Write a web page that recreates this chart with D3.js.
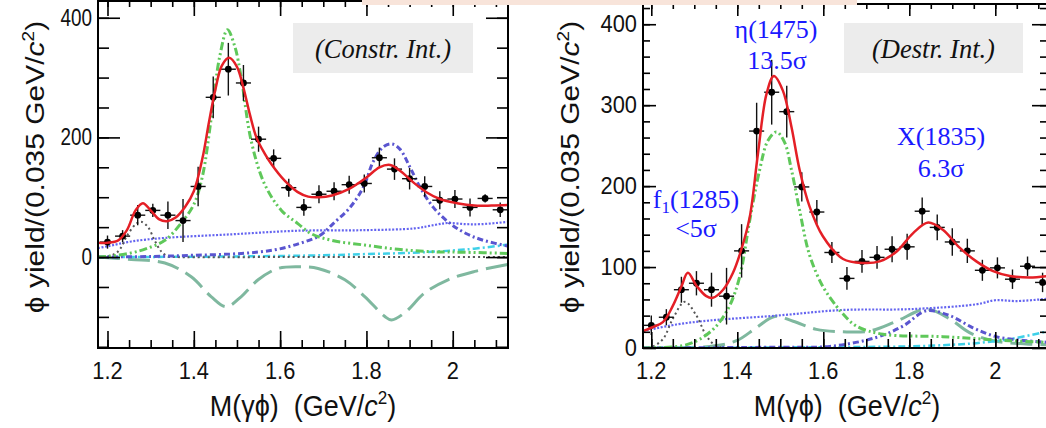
<!DOCTYPE html>
<meta charset="utf-8">
<title>phi gamma fits</title>
<script src="https://d3js.org/d3.v7.min.js"></script>
<style>
  body { margin: 0; background: #fff; }
  svg { display: block; }
</style>
<body>
</body>
<script>
// bin centres (GeV/c^2), bin width 0.035
var massBins = [1.200, 1.235, 1.270, 1.305, 1.340, 1.375, 1.410, 1.445, 1.480, 1.515,
                1.550, 1.585, 1.620, 1.655, 1.690, 1.725, 1.760, 1.795, 1.830, 1.865,
                1.900, 1.935, 1.970, 2.005, 2.040, 2.075, 2.110];

// constructive interference panel
var constrYield = [25, 35, 70, 78, 70, 61, 118, 267, 314, 291, 197, 165, 116, 83, 105,
                   110, 121, 123, 166, 147, 131, 118, 95, 97, 83, 98, 79];
var constrErr   = [11, 10, 17, 11, 23, 36, 33, 35, 44, 30, 21, 15, 15, 14, 15,
                   15, 15, 15, 17, 18, 18, 17, 15, 15, 15, 7, 12];

// destructive interference panel
var destrYield = [28, 38, 72, 80, 72, 64, 120, 268, 316, 292, 199, 168, 118, 86, 107,
                  112, 122, 125, 169, 149, 131, 120, 96, 99, 85, 101, 81];
var destrErr   = [12, 10, 16, 15, 21, 35, 33, 35, 40, 32, 18, 15, 13, 14, 14,
                  14, 16, 16, 17, 16, 17, 15, 13, 13, 12, 12, 12];

// fit curves, [mass, yield]
var constrTotal = [[1.178,24],[1.2,24],[1.225,28],[1.245,45],[1.265,78],[1.282,90],[1.3,78],[1.32,63],
  [1.338,60],[1.358,66],[1.38,84],[1.40,110],[1.42,165],[1.435,225],[1.45,280],[1.465,320],[1.482,333],
  [1.50,318],[1.515,283],[1.53,238],[1.545,200],[1.565,172],[1.58,155],[1.61,128],[1.64,109],[1.665,101],
  [1.69,100],[1.72,103],[1.76,114],[1.80,133],[1.83,150],[1.855,154],[1.88,143],[1.91,124],[1.94,108],
  [1.97,97],[2.01,90],[2.05,86],[2.09,86],[2.13,87]];
var constrEta = [[1.178,0],[1.2,1],[1.255,7],[1.29,14],[1.333,28],[1.37,56],[1.40,88],[1.42,135],[1.44,230],
  [1.46,335],[1.478,380],[1.495,352],[1.51,299],[1.533,194],[1.564,122],[1.603,78],[1.641,56],[1.672,39],
  [1.719,28],[1.796,20],[1.873,13],[1.95,9],[2.028,8],[2.13,6]];
var constrX = [[1.178,0],[1.3,1],[1.4,3],[1.51,6],[1.587,12],[1.646,23],[1.692,36],[1.723,56],[1.762,83],
  [1.793,117],[1.816,160],[1.839,184],[1.859,189],[1.878,180],[1.901,150],[1.924,117],[1.955,83],
  [1.994,56],[2.032,39],[2.071,28],[2.13,18]];
var constrBkg = [[1.178,15],[1.2,18],[1.255,26],[1.333,32],[1.487,38],[1.641,44],[1.796,45],[1.912,48],
  [1.96,54],[1.989,57],[2.03,55],[2.066,55],[2.13,59]];
var constrF1 = [[1.178,0],[1.2,1],[1.224,9],[1.248,39],[1.267,56],[1.278,59],[1.294,50],[1.309,28],
  [1.325,9],[1.34,1],[1.36,0],[1.6,0],[1.9,0],[2.13,0]];
var constrOther = [[1.178,0],[1.5,1],[1.7,3],[1.8,5],[1.9,7],[2.0,11],[2.05,14],[2.13,21]];
var constrIntf = [[1.178,0],[1.255,-4],[1.333,-10],[1.394,-33],[1.44,-66],[1.475,-83],[1.51,-66],
  [1.549,-38],[1.595,-19],[1.641,-16],[1.688,-19],[1.75,-38],[1.796,-66],[1.842,-99],[1.858,-105],
  [1.889,-93],[1.935,-60],[1.989,-38],[2.051,-24],[2.13,-12]];

var destrTotal = [[1.181,21],[1.2,25],[1.227,32],[1.25,52],[1.27,76],[1.285,93],[1.305,77],[1.328,64],
  [1.343,62],[1.367,72],[1.39,93],[1.409,121],[1.429,162],[1.448,240],[1.468,314],[1.485,336],[1.506,318],
  [1.526,273],[1.545,220],[1.568,175],[1.599,138],[1.646,110],[1.692,105],[1.731,107],[1.77,119],
  [1.809,142],[1.844,155],[1.878,146],[1.917,124],[1.956,107],[1.995,95],[2.034,89],[2.08,87],[2.125,89]];
var destrEta = [[1.181,0],[1.274,3],[1.313,11],[1.351,27],[1.382,52],[1.406,89],[1.429,158],[1.452,220],
  [1.471,256],[1.491,267],[1.51,254],[1.526,220],[1.545,170],[1.568,115],[1.599,76],[1.63,52],[1.646,42],
  [1.677,27],[1.739,17],[1.878,14],[2.034,9],[2.125,7]];
var destrX = [[1.181,0],[1.5,1],[1.615,2],[1.723,13],[1.785,27],[1.84,46],[1.894,40],[1.948,25],
  [2.002,14],[2.072,9],[2.125,7]];
var destrBkg = [[1.181,21],[1.258,29],[1.336,34],[1.491,40],[1.646,47],[1.801,48],[1.956,54],[2.0,59],
  [2.05,58],[2.125,61]];
var destrF1 = [[1.181,0],[1.2,1],[1.227,11],[1.25,36],[1.278,57],[1.305,40],[1.328,15],[1.347,4],
  [1.37,0],[1.7,0],[2.125,0]];
var destrOther = [[1.181,0],[1.6,1],[1.8,2],[1.9,4],[1.956,6],[2.034,11],[2.125,21]];
var destrIntf = [[1.181,0],[1.336,2],[1.398,9],[1.444,25],[1.487,39],[1.53,33],[1.584,23],[1.646,20],
  [1.708,21],[1.77,33],[1.84,48],[1.894,36],[1.94,19],[1.995,9],[2.072,5],[2.125,4]];

// tick labels
var xTickLabels = [1.2, 1.4, 1.6, 1.8, 2];
var constrYLabels = [0, 200, 400];
var destrYLabels = [0, 100, 200, 300, 400];

var styles = {
  intf:  {stroke: "#7fb89f", width: 3,   dash: "22,8"},
  bkg:   {stroke: "#6464f0", width: 2.2, dash: "2,1.6"},
  other: {stroke: "#3fd0e8", width: 2.5, dash: "7,3,2,3"},
  f1:    {stroke: "#555555", width: 2,   dash: "2,3"},
  x:     {stroke: "#5a55d0", width: 3,   dash: "6,3,2,3"},
  eta:   {stroke: "#5fc85a", width: 3,   dash: "8,3,2,3,2,3"},
  total: {stroke: "#e41f26", width: 2.5, dash: null}
};

var svg = d3.select("body").append("svg")
            .attr("width", 1046)
            .attr("height", 428);

function squishText(sel, x, y, sx, rot) {
  sel.attr("transform", "translate(" + x + "," + y + ") scale(" + sx + ",1)" + (rot ? " rotate(" + rot + ")" : ""));
  return sel;
}

function drawPanel(p) {
  var g = svg.append("g");
  var x = d3.scaleLinear().domain(p.xDomain).range([p.left, p.right]);
  var y = d3.scaleLinear().domain(p.yDomain).range([p.bottom, p.top]);

  g.append("clipPath").attr("id", p.id + "-clip")
   .append("rect")
   .attr("x", p.left).attr("y", p.top)
   .attr("width", p.right - p.left).attr("height", p.bottom - p.top);

  var plot = g.append("g").attr("clip-path", "url(#" + p.id + "-clip)");

  var line = d3.line()
               .x(function (d) { return x(d[0]); })
               .y(function (d) { return y(d[1]); })
               .curve(d3.curveCatmullRom.alpha(0.5));

  p.curves.forEach(function (c) {
    var s = styles[c.kind];
    if (c.kind === "total") return;
    plot.append("path")
        .attr("d", line(c.data))
        .attr("fill", "none")
        .attr("stroke", s.stroke)
        .attr("stroke-width", s.width)
        .attr("stroke-dasharray", s.dash);
  });

  // data points
  var pts = massBins.map(function (m, i) { return {m: m, v: p.yields[i], e: p.errs[i]}; });
  var pg = plot.selectAll("g.pt").data(pts).enter().append("g").attr("class", "pt");
  pg.append("line")
    .attr("x1", function (d) { return x(d.m - 0.0175); })
    .attr("x2", function (d) { return x(d.m + 0.0175); })
    .attr("y1", function (d) { return y(d.v); })
    .attr("y2", function (d) { return y(d.v); })
    .attr("stroke", "#111").attr("stroke-width", 1.4);
  pg.append("line")
    .attr("x1", function (d) { return x(d.m); })
    .attr("x2", function (d) { return x(d.m); })
    .attr("y1", function (d) { return y(d.v - d.e); })
    .attr("y2", function (d) { return y(d.v + d.e); })
    .attr("stroke", "#111").attr("stroke-width", 1.4);
  pg.append("circle")
    .attr("cx", function (d) { return x(d.m); })
    .attr("cy", function (d) { return y(d.v); })
    .attr("r", 3.4)
    .attr("fill", "#000");

  p.curves.forEach(function (c) {
    if (c.kind !== "total") return;
    var s = styles[c.kind];
    plot.append("path")
        .attr("d", line(c.data))
        .attr("fill", "none")
        .attr("stroke", s.stroke)
        .attr("stroke-width", s.width);
  });

  // axes: ticks inward on all four sides
  function ticks(axis, vals, len, tx, ty) {
    var a = g.append("g")
             .attr("transform", "translate(" + tx + "," + ty + ")")
             .call(axis.tickValues(vals).tickSize(-len).tickFormat(""));
    a.select(".domain").remove();
    a.selectAll("line").attr("stroke", "#000").attr("stroke-width", 1.6);
  }
  var xMinor = d3.range(1.15, 2.2, 0.05).filter(function (v) {
    return v >= p.xDomain[0] && v <= p.xDomain[1];
  });
  var yMinor = d3.range(p.yMinorStart, p.yDomain[1], p.yMinorStep);
  ticks(d3.axisBottom(x), xTickLabels, p.xMajorLen, 0, p.bottom);
  ticks(d3.axisBottom(x), xMinor, p.xMinorLen, 0, p.bottom);
  ticks(d3.axisTop(x), xTickLabels, p.topMajorLen, 0, p.top);
  ticks(d3.axisTop(x), xMinor, p.topMinorLen, 0, p.top);
  ticks(d3.axisLeft(y), p.yLabels, p.yMajorLen, p.left, 0);
  ticks(d3.axisLeft(y), yMinor, p.yMinorLen, p.left, 0);
  ticks(d3.axisRight(y), p.yLabels, p.rMajorLen, p.right, 0);
  ticks(d3.axisRight(y), yMinor, p.rMinorLen, p.right, 0);

  g.append("rect")
   .attr("x", p.left).attr("y", p.top)
   .attr("width", p.right - p.left).attr("height", p.bottom - p.top)
   .attr("fill", "none").attr("stroke", "#000").attr("stroke-width", 2);

  // tick labels
  xTickLabels.forEach(function (v) {
    squishText(g.append("text"), x(v), 379, 0.95)
      .attr("text-anchor", "middle")
      .attr("font-family", "Liberation Sans, Arial, sans-serif")
      .attr("font-size", 23)
      .attr("fill", "#111")
      .text(v);
  });
  p.yLabels.forEach(function (v) {
    squishText(g.append("text"), p.left - 6, y(v) + 8, p.yLabelSx)
      .attr("text-anchor", "end")
      .attr("font-family", "Liberation Sans, Arial, sans-serif")
      .attr("font-size", 23)
      .attr("fill", "#111")
      .text(v);
  });

  // axis titles
  var xt = squishText(g.append("text"), p.xTitleX, 416, 0.9)
    .attr("text-anchor", "middle")
    .attr("font-family", "Liberation Sans, Arial, sans-serif")
    .attr("font-size", 30)
    .attr("fill", "#111");
  xt.append("tspan").text("M(\u03b3\u03d5)\u00a0\u00a0(GeV/");
  xt.append("tspan").attr("font-style", "italic").text("c");
  xt.append("tspan").attr("font-size", 19).attr("dy", -12).text("2");
  xt.append("tspan").attr("dy", 12).text(")");

  var yt = squishText(g.append("text"), p.yTitleX, 167, 0.85, -90)
    .attr("text-anchor", "middle")
    .attr("font-family", "Liberation Sans, Arial, sans-serif")
    .attr("font-size", 30)
    .attr("fill", "#111");
  yt.append("tspan").text("\u03d5 yield/(0.035 GeV/");
  yt.append("tspan").attr("font-style", "italic").text("c");
  yt.append("tspan").attr("font-size", 19).attr("dy", -12).text("2");
  yt.append("tspan").attr("dy", 12).text(")");

  // label box
  g.append("rect")
   .attr("x", p.box[0]).attr("y", 23)
   .attr("width", p.box[1] - p.box[0]).attr("height", 50)
   .attr("fill", "#ececec");
  g.append("text")
   .attr("x", (p.box[0] + p.box[1]) / 2).attr("y", 58)
   .attr("text-anchor", "middle")
   .attr("font-family", "Liberation Serif, Times New Roman, serif")
   .attr("font-style", "italic")
   .attr("font-size", 26.5)
   .attr("fill", "#111")
   .text(p.boxText);
}

drawPanel({
  id: "constr",
  left: 98, right: 508, top: 1, bottom: 348,
  xDomain: [1.178, 2.128], yDomain: [-152, 428],
  yLabels: constrYLabels, yMinorStart: -150, yMinorStep: 50,
  yMajorLen: 22, yMinorLen: 11, rMajorLen: 22, rMinorLen: 11,
  xMajorLen: 17, xMinorLen: 8, topMajorLen: 15, topMinorLen: 6,
  yLabelSx: 0.82, xTitleX: 303, yTitleX: 44,
  yields: constrYield, errs: constrErr,
  box: [293, 473], boxText: "(Constr. Int.)",
  curves: [
    {kind: "intf", data: constrIntf},
    {kind: "bkg", data: constrBkg},
    {kind: "other", data: constrOther},
    {kind: "f1", data: constrF1},
    {kind: "x", data: constrX},
    {kind: "eta", data: constrEta},
    {kind: "total", data: constrTotal}
  ]
});

drawPanel({
  id: "destr",
  left: 643, right: 1048, top: 4, bottom: 348,
  xDomain: [1.1807, 2.1226], yDomain: [0, 425],
  yLabels: destrYLabels, yMinorStart: 20, yMinorStep: 20,
  yMajorLen: 13, yMinorLen: 7, rMajorLen: 16, rMinorLen: 8,
  xMajorLen: 16, xMinorLen: 9, topMajorLen: 12, topMinorLen: 5,
  yLabelSx: 0.95, xTitleX: 847, yTitleX: 579,
  yields: destrYield, errs: destrErr,
  box: [844, 1023], boxText: "(Destr. Int.)",
  curves: [
    {kind: "intf", data: destrIntf},
    {kind: "bkg", data: destrBkg},
    {kind: "other", data: destrOther},
    {kind: "f1", data: destrF1},
    {kind: "x", data: destrX},
    {kind: "eta", data: destrEta},
    {kind: "total", data: destrTotal}
  ]
});

// resonance annotations
var notes = [
  {t: "\u03b7(1475)", x: 776, y: 38},
  {t: "13.5\u03c3", x: 777, y: 69},
  {t: "X(1835)", x: 941, y: 145},
  {t: "6.3\u03c3", x: 941, y: 177},
  {t: "<5\u03c3", x: 696, y: 237}
];
notes.forEach(function (n) {
  svg.append("text")
     .attr("x", n.x).attr("y", n.y)
     .attr("text-anchor", "middle")
     .attr("font-family", "Liberation Serif, Times New Roman, serif")
     .attr("font-size", 26)
     .attr("fill", "#1a1aff")
     .text(n.t);
});
var f1 = svg.append("text")
            .attr("x", 696).attr("y", 208)
            .attr("text-anchor", "middle")
            .attr("font-family", "Liberation Serif, Times New Roman, serif")
            .attr("font-size", 26)
            .attr("fill", "#1a1aff");
f1.append("tspan").text("f");
f1.append("tspan").attr("font-size", 17).attr("dy", 5).text("1");
f1.append("tspan").attr("dy", -5).text("(1285)");

// pale strip along the top edge
svg.append("rect")
   .attr("x", 362).attr("y", 0)
   .attr("width", 495).attr("height", 5)
   .attr("fill", "#f8e4da");
</script>
